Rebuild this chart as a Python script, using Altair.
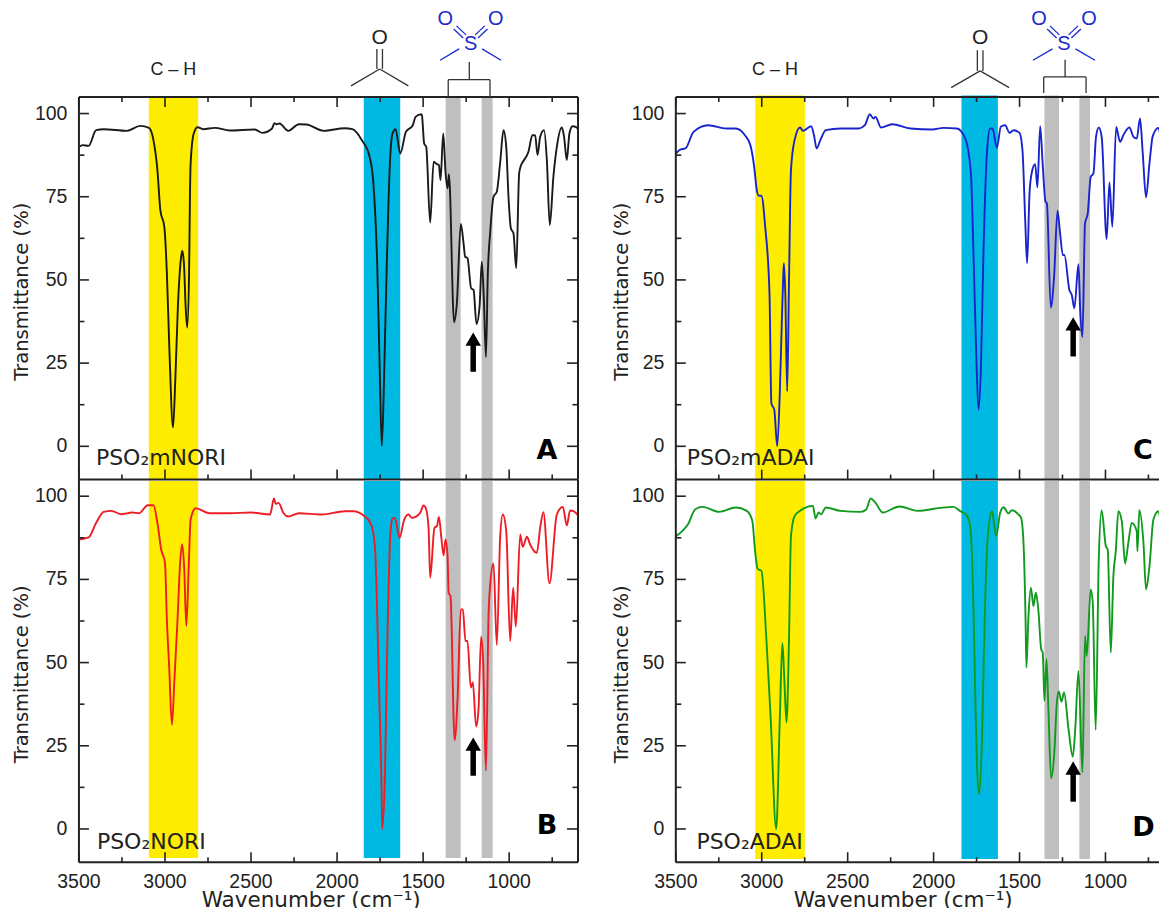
import altair as alt
import pandas as pd

# ---- spectra: wavenumber (cm-1) and transmittance (%) ----
a_wn = [3500,3478,3444,3400,3356,3222,3144,3093,3067,3044,3027,3004,2989,2975,2953,2940,2925,2910,2900,2890,2880,2871,2860,2855,2851,2833,2811,2778,2711,2622,2478,2433,2378,2364,2351,2335,2284,2222,2178,2078,1956,1911,1856,1811,1789,1767,1753,1740,1725,1711,1693,1678,1660,1633,1600,1560,1544,1511,1507,1494,1482,1459,1439,1420,1408,1399,1383,1370,1358,1350,1320,1304,1281,1265,1256,1242,1221,1207,1190,1172,1159,1147,1135,1124,1110,1091,1072,1052,1033,1017,1004,990,975,959,942,934,920,888,865,849,835,820,797,781,764,743,723,694,681,665,650,632,607,600]
a_t = [90,90.5,90.3,95,95.3,94.8,96.3,95.7,92,83,71,66,52,30,5.7,20,42,55,58.8,55,42,35.7,52,75,85,94,95.9,95.3,95.7,94.9,95.2,94.2,95.5,97.1,96.8,97,94.8,96.8,96.7,94.8,95.6,95.3,92,87,79,55,25,0.1,25,55,85,94,95.3,88,94.5,96.5,99,99.8,99.5,91,90,67.2,85.5,84.8,84.5,80,94,82.5,77.5,81.8,37.3,43,66.8,61,57,56.5,47.5,47,36.8,42,55.5,44,26.8,52,64.5,75,76.5,85.5,95,90,75,65.5,64,53.5,82,84,85.5,88.5,93.5,93.5,87.5,93,95,86,66.5,81,90,95.8,93,86,94,96.2,95.8,95.2]

b_wn = [3500,3444,3400,3356,3311,3256,3189,3151,3100,3067,3044,3022,3000,2989,2975,2960,2945,2927,2912,2900,2888,2876,2862,2851,2822,2744,2622,2500,2389,2367,2356,2340,2311,2284,2222,2089,1956,1904,1846,1807,1788,1778,1765,1753,1741,1738,1722,1710,1691,1679,1664,1637,1610,1585,1565,1517,1498,1482,1468,1459,1434,1420,1408,1395,1381,1370,1358,1352,1341,1317,1300,1281,1269,1254,1242,1223,1211,1192,1178,1163,1151,1135,1120,1110,1091,1072,1052,1037,1017,994,977,961,936,921,897,878,849,839,820,801,766,723,688,665,646,626,600]
b_t = [87,87.6,92,95.3,95.6,94.6,95.1,94.9,97.3,97.3,92,84,80,63,48,31.3,45,63,80,85.6,78,61,79,93,96.4,94.9,94.9,95.1,94.5,99.3,97.7,98,94.9,93.9,94.9,94.5,95.5,95.5,94.2,92,88.5,83,61,36,11,0,16,51,88,93.2,93.5,87.5,93,94.5,93.5,95,97.2,96,90,75.5,90.5,91,93.8,88,82.2,87,82,71,70,26.7,39,66,66,56.5,56.5,42.5,44,30.8,36,57.8,50,17.5,64,73.5,79.8,55.3,88,94.5,89.5,56.5,72.5,60.8,88.5,84.8,87.8,85.5,83.2,83,90.5,95.2,73.8,94.5,96.8,91.2,95.7,95.5,94.3]

c_wn = [3500,3472,3444,3397,3312,3205,3151,3098,3066,3044,3029,3017,3002,2980,2955,2944,2927,2910,2895,2884,2875,2871,2863,2852,2841,2830,2809,2777,2760,2713,2696,2681,2659,2627,2542,2435,2400,2371,2350,2338,2306,2242,2135,2007,1942,1865,1816,1783,1768,1752,1739,1725,1710,1690,1671,1657,1632,1609,1584,1558,1535,1500,1483,1467,1456,1442,1429,1409,1396,1380,1365,1349,1341,1318,1299,1279,1264,1248,1239,1210,1196,1181,1157,1148,1134,1119,1103,1086,1070,1055,1039,1022,993,977,960,938,915,896,861,837,818,799,783,764,744,725,692,667,643]
c_t = [88,89.2,89.5,94.5,96.5,95.5,95.5,93.5,90.5,84,77,75.3,75.3,66,46,12.9,11,0,16,36,51,55,46,16.5,51,83,92,95.8,94.8,96.2,93.5,89.5,92,95,95.5,95.5,96.5,99.8,98.5,99,95.8,96.8,95.5,95.2,95.7,95.5,92.5,82,58,28,11,23,58,88,95.5,95.5,89.7,96,96.5,94.2,95,94.2,89,68,55,76,82.2,84.8,77.8,96.2,84.5,73.5,73,41.7,51,70.8,64,57.5,57.5,47,45.5,41.5,54.7,42,32.8,67,70,81,82,93,95.8,93,62.3,79.3,66,96,91.5,93.5,95.8,93,92.5,98.5,88,74.8,85,93.2,95.7,90.5,97.5]

d_wn = [3500,3461,3429,3387,3344,3248,3151,3087,3055,3038,3023,3002,2974,2948,2916,2895,2880,2867,2856,2841,2830,2809,2777,2702,2687,2670,2655,2627,2542,2424,2392,2366,2339,2296,2199,2092,1962,1884,1845,1810,1787,1768,1758,1745,1735,1719,1704,1686,1661,1636,1613,1593,1564,1545,1506,1491,1477,1465,1460,1448,1434,1419,1405,1390,1374,1365,1355,1343,1332,1316,1297,1283,1272,1256,1241,1215,1190,1177,1157,1134,1119,1109,1086,1074,1057,1039,1022,998,987,969,954,940,925,905,886,867,847,818,814,803,779,764,744,721,692,667,643]
d_t = [88,89.6,91.6,96.1,96.8,95.3,96.6,95.6,92.6,83.1,78.1,77.6,58,33,0,33,55.9,43,32,58,88,94,95.6,97.1,93.3,95.1,94.6,96.6,95.6,95.3,96,99.3,98.1,95.1,96.9,95.6,96.5,96.8,95.5,94.5,91,66,41,16,10.5,26,61,87,95.5,88,95,96.7,94.8,95.8,94.5,93.5,86,63,48.5,64,72.5,67,71,65.5,54,53,38.5,51,36,15.2,23.5,38,41.3,38.2,41,30,21.7,29,47.5,17,58,52,72,68,29.8,81,95.7,85,84,53,76,83.5,95.5,92.5,79.8,86,92,89.5,83.5,95.8,86,72,79,93,95.5,88.8,95]

# ---- axis ticks ----
x_major = [3500, 3000, 2500, 2000, 1500, 1000]
x_minor = [3250, 2750, 2250, 1750, 1250, 750]
y_major = [0, 25, 50, 75, 100]
y_minor = [12.5, 37.5, 62.5, 87.5]

# ---- highlighted bands (start, end wavenumber) ----
bands_left = {"yellow": (3094, 2807), "blue": (1845, 1633), "g1": (1369, 1282), "g2": (1160, 1096)}
bands_right = {"yellow": (3038, 2749), "blue": (1838, 1626), "g1": (1355, 1270), "g2": (1152, 1090)}
band_colors = {"yellow": "#FFED00", "blue": "#00B9E3", "g1": "#BFBFBF", "g2": "#BFBFBF"}

H = 383
W_L = 499.5
W_R = 491.6
DOM_L = [3500, 600]
DOM_R = [3500, 642]
Y_DOM = [-10, 105]
AX = "#222222"
SANS = "Liberation Sans"
DJ = "DejaVu Sans"
STRUCT = "#333333"
SBLUE = "#1B2BD0"


def seg(x1, y1, x2, y2, color=STRUCT, sw=1.3):
    return alt.Chart().mark_rule(color=color, strokeWidth=sw).encode(
        x=alt.value(x1), x2=alt.value(x2), y=alt.value(y1), y2=alt.value(y2))


def txt(x, y, s, size, font=DJ, color="#222222", align="left", weight="normal", angle=0, baseline="middle"):
    return alt.Chart().mark_text(align=align, baseline=baseline, fontSize=size, font=font, angle=angle,
                                 color=color, fontWeight=weight).encode(
        x=alt.value(x), y=alt.value(y), text=alt.value(s))


def panel(wn, t, color, name, letter, bands, dom, w, top, bottom_labels, name_xy, letter_xy,
          arrow, ytitle_x, xtitle_x, band_low, band_high, head=None):
    sx = alt.Scale(domain=dom, nice=False, zero=False)
    sy = alt.Scale(domain=Y_DOM, nice=False, zero=False)

    def Xn(f):
        return alt.X(f, scale=sx, axis=None)

    def Yn(f):
        return alt.Y(f, scale=sy, axis=None)

    layers = []
    band_df = pd.DataFrame([
        {"b": k, "a": v[0], "e": v[1], "lo": band_low, "hi": band_high, "c": band_colors[k]}
        for k, v in bands.items()])
    layers.append(alt.Chart(band_df).mark_rect().encode(
        x=Xn("a:Q"), x2="e:Q", y=Yn("lo:Q"), y2="hi:Q",
        color=alt.Color("c:N", scale=None, legend=None)))

    curve = pd.DataFrame({"wn": wn, "t": t})
    layers.append(alt.Chart(curve).mark_line(color=color, strokeWidth=1.9, strokeJoin="round", interpolate="monotone").encode(
        x=Xn("wn:Q"), y=Yn("t:Q")))

    # frame
    layers.append(seg(0, H, w, H, AX, 2))
    layers.append(seg(0, 0, 0, H, AX, 2))
    if top:
        layers.append(seg(0, 0, w, 0, AX, 2))
    if dom[1] == 600:
        layers.append(seg(w, 0, w, H, AX, 2))

    # inward ticks
    def xt(vals, length, y0):
        d = pd.DataFrame({"v": vals})
        y1 = y0 - length if y0 > 0 else y0 + length
        return alt.Chart(d).mark_rule(color=AX, strokeWidth=1.6).encode(
            x=Xn("v:Q"), y=alt.value(y0), y2=alt.value(y1))

    def yt(vals, x0, x1):
        d = pd.DataFrame({"v": vals})
        return alt.Chart(d).mark_rule(color=AX, strokeWidth=1.6).encode(
            y=Yn("v:Q"), x=alt.value(x0), x2=alt.value(x1))

    layers += [xt(x_major, 10, H), xt(x_minor, 5, H)]
    if top:
        layers += [xt(x_major, 10, 0), xt(x_minor, 5, 0)]
    layers += [yt(y_major, 0, 10), yt(y_minor, 0, 5.5)]
    if dom[1] == 600:
        layers += [yt(y_major, w, w - 11), yt(y_minor, w, w - 5.5)]

    # tick labels and axis titles
    ylab = pd.DataFrame({"v": y_major, "s": [str(v) for v in y_major]})
    layers.append(alt.Chart(ylab).mark_text(align="right", baseline="middle", font=SANS, fontSize=19.5, color="#222222").encode(
        y=Yn("v:Q"), x=alt.value(-11.5), text="s:N"))
    layers.append(txt(ytitle_x, 195, "Transmittance (%)", 19.5, align="center", angle=270))
    if bottom_labels:
        xlab = pd.DataFrame({"v": x_major, "s": [str(v) for v in x_major]})
        layers.append(alt.Chart(xlab).mark_text(align="center", baseline="middle", font=SANS, fontSize=19.5, color="#222222").encode(
            x=Xn("v:Q"), y=alt.value(H + 19.5), text="s:N"))
        layers.append(txt(xtitle_x, H + 45, "Wavenumber (cm\u207b\u00b9)", 21.5, align="center", baseline="alphabetic"))

    # arrow
    aw, a_tip_c, a_low = arrow
    ad = pd.DataFrame({"x": [aw], "top": [a_tip_c], "low": [a_low]})
    layers.append(alt.Chart(ad).mark_rule(color="black", strokeWidth=5.5).encode(
        x=Xn("x:Q"), y=Yn("top:Q"), y2="low:Q"))
    layers.append(alt.Chart(ad).mark_point(shape="triangle-up", filled=True, color="black", opacity=1, size=240).encode(
        x=Xn("x:Q"), y=Yn("top:Q")))

    layers.append(txt(name_xy[0], name_xy[1], name, 22))
    layers.append(txt(letter_xy[0], letter_xy[1], letter, 27, color="black", align="center", weight="bold"))
    if head:
        layers += head
    return alt.layer(*layers).properties(width=w, height=H)


def header(ch_x, c_o, c_y0, c_y1, c_yv, c_dx, c_bx, s_x, o_dx, m_in, m_out, stem_x, stem_y0, stem_y1, br_l, br_r, br_b):
    out = [txt(ch_x, -27, "C \u2013 H", 18, font=SANS, align="center"),
           txt(c_o, -59, "O", 21, font=SANS, align="center"),
           seg(c_o - c_bx, c_y0, c_o - c_bx, c_y1), seg(c_o + c_bx, c_y0, c_o + c_bx, c_y1),
           seg(c_o, c_y1, c_o - c_dx, c_yv), seg(c_o, c_y1, c_o + c_dx, c_yv)]
    out += [txt(s_x, -53, "S", 20, font=SANS, color=SBLUE, align="center"),
            txt(s_x - o_dx, -78, "O", 20, font=SANS, color=SBLUE, align="center"),
            txt(s_x + o_dx, -78, "O", 20, font=SANS, color=SBLUE, align="center")]
    for sign in (-1, 1):
        for off in (-2, 2):
            out.append(seg(s_x + sign * (15.5 + off * 0.7), -69.5 + off * 0.8,
                           s_x + sign * (6 + off * 0.7), -60.5 + off * 0.8, SBLUE, 1.3))
        out.append(seg(s_x + sign * m_in, -48, s_x + sign * m_out, -36.7, SBLUE, 1.4))
    out += [seg(stem_x, stem_y0, stem_x, stem_y1),
            seg(br_l, stem_y1, br_r, stem_y1),
            seg(br_l, stem_y1, br_l, br_b), seg(br_r, stem_y1, br_r, br_b)]
    return out


hdr_l = header(94.5, 301, -48, -28, -11, 28.7, 2.8, 392, 25.3, 11.5, 30.5, 390.7, -35, -17.3, 369.6, 411.4, 0)
hdr_r = header(99.3, 304.6, -46.7, -26, -9.3, 29, 2.8, 388.5, 25, 11.5, 31, 389.6, -37.3, -20, 368.2, 410.6, -4)

A = panel(a_wn, a_t, "#1A1A1A", "PSO\u2082mNORI", "A", bands_left, DOM_L, W_L, True, False,
          (17, 361.7), (468.5, 354), (1209, 32.2, 22.4), -56.5, 232.5, -10, 105, hdr_l)
C = panel(c_wn, c_t, "#1A24CC", "PSO\u2082mADAI", "C", bands_right, DOM_R, W_R, True, False,
          (11, 361.7), (467.6, 354), (1188, 36.8, 27), -54, 227.6, -10, 105.4, hdr_r)
B = panel(b_wn, b_t, "#EE1C25", "PSO\u2082NORI", "B", bands_left, DOM_L, W_L, False, True,
          (18, 363), (468.5, 347), (1209, 25.5, 16), -56.5, 232.5, -8.7, 104.6)
D = panel(d_wn, d_t, "#109A1E", "PSO\u2082ADAI", "D", bands_right, DOM_R, W_R, False, True,
          (20.6, 363), (468, 349), (1188, 18.3, 8.2), -54, 227.6, -9, 104.6)

chart = alt.concat(A, C, B, D, columns=2, spacing={"row": 0, "column": 97.4}, bounds="flush").properties(
    padding={"left": 4, "top": 0.6, "right": -9, "bottom": -5}, background="white"
).configure_view(stroke=None)

chart.save("out.html", embed_options={"renderer": "svg", "actions": False})
